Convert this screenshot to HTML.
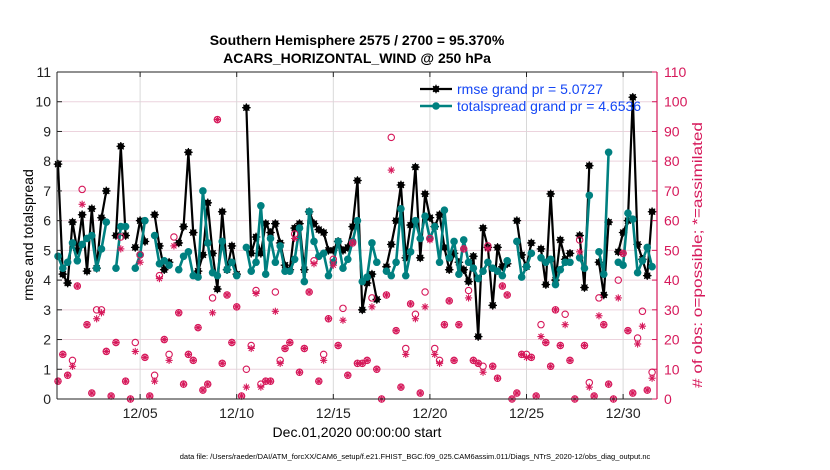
<!DOCTYPE html>
<html><head><meta charset="utf-8">
<style>
html,body{margin:0;padding:0;background:#fff;}
svg{display:block;font-family:"Liberation Sans",Arial,sans-serif;}
</style></head>
<body>
<svg id="chart" width="830" height="470" viewBox="0 0 830 470" xmlns="http://www.w3.org/2000/svg">
  <rect x="0" y="0" width="830" height="470" fill="#fff"/>
  <text x="357" y="45" text-anchor="middle" font-size="14" font-weight="bold">Southern Hemisphere 2575 / 2700 = 95.370%</text>
  <text x="357" y="63" text-anchor="middle" font-size="14" font-weight="bold">ACARS_HORIZONTAL_WIND @ 250 hPa</text>
  <g id="grid"></g>
  <g id="series"></g>
  <g id="axes"></g>
  <text transform="translate(33,235) rotate(-90)" text-anchor="middle" font-size="14">rmse and totalspread</text>
  <text transform="translate(702,255) rotate(-90)" text-anchor="middle" font-size="14" textLength="266" lengthAdjust="spacingAndGlyphs" fill="#d6185a"># of obs: o=possible; *=assimilated</text>
  <text x="357" y="437" text-anchor="middle" font-size="14">Dec.01,2020 00:00:00 start</text>
  <text x="415" y="459" text-anchor="middle" font-size="7.5">data file: /Users/raeder/DAI/ATM_forcXX/CAM6_setup/f.e21.FHIST_BGC.f09_025.CAM6assim.011/Diags_NTrS_2020-12/obs_diag_output.nc</text>
  <g id="legend"></g>
</svg>
<script>
const rmse = [7.9,4.2,3.9,5.95,5.0,6.2,4.3,6.4,4.4,6.1,7.0,null,5.5,8.5,5.5,null,5.1,6.0,5.3,null,6.2,5.15,4.35,4.6,null,5.25,5.8,8.3,5.6,4.3,4.85,6.6,4.9,3.7,6.3,4.35,5.15,4.2,null,9.8,4.9,5.45,4.9,5.9,5.6,5.9,5.25,4.5,4.35,5.75,5.9,4.35,6.3,5.9,5.7,5.6,5.0,5.0,5.3,5.0,5.1,5.8,7.35,3.0,3.9,4.2,3.35,null,4.45,5.2,6.0,7.2,4.75,5.85,7.8,4.75,6.9,6.1,5.8,6.2,5.1,4.35,4.9,4.6,4.35,3.95,4.8,2.1,5.75,5.1,3.15,5.1,4.45,4.55,null,6.0,4.85,4.45,5.25,null,5.05,3.85,6.9,4.0,5.35,4.7,4.9,null,5.5,3.75,7.85,null,4.6,3.5,5.95,null,4.95,5.6,6.0,10.15,5.2,4.7,4.15,6.3];
const spread = [4.8,4.4,4.6,5.25,4.65,5.2,5.4,5.5,4.4,5.05,5.95,null,4.4,5.8,5.8,null,4.4,4.85,6.0,null,5.5,4.55,4.65,4.5,null,4.35,4.8,4.95,4.15,4.1,7.0,5.25,4.25,4.15,5.3,4.35,4.6,4.15,null,5.1,4.3,4.6,6.5,4.2,5.4,4.6,5.15,4.3,4.3,4.7,5.75,3.95,6.3,5.3,4.8,4.9,4.15,4.6,5.3,4.4,4.7,5.3,6.0,3.95,4.1,5.25,4.6,null,4.3,4.15,4.6,6.4,4.15,4.95,6.0,5.4,6.15,5.4,5.8,4.6,6.35,4.75,5.3,4.2,5.35,4.6,4.4,4.05,4.3,4.6,4.4,4.3,4.15,4.65,null,5.3,4.1,4.45,4.9,null,4.75,4.6,4.7,3.85,4.35,4.6,4.6,null,4.75,4.4,6.85,null,4.95,4.2,8.3,null,4.6,4.5,6.25,6.05,4.25,4.65,5.1,4.45];
const possible = [6,15,8,13,38,70.5,25,2,30,30,16,1,19,54.5,6,0,19,48.5,14,1,8,41.5,20,15,54.5,29,5,15,13,24,3,5,34,94,12,35,19,31,1,10,18,36.5,5,6,6,36,13,17,19,55.5,9,17,36,46.5,6,15,27,47,18,30.5,8,52.5,12,12,13,34,10,0,35,88,23,4,17,32,28.5,2,36,54,17,13,25,33,13,25,50.5,36.5,13,12,11,51.5,11,7,38,35,0,2,15,15,14,1,25,19,11,30,18,28.5,13,0,53.5,18,5.5,1,34,25,5,0,40,49,23,2,20.5,29.5,3,9];
const assimilated = [6,15,8,11,38,65.5,25,2,27,29,16,1,19,50.5,6,0,16,46,14,1,6,40.5,20,13,51.5,29,5,15,13,24,3,5,29,94,12,35,19,31,1,4,17,35.5,4,6,6,29.5,12,17,19,54,9,17,36,45.5,6,13,27,45,18,26.5,8,52.5,12,12,13,31,10,0,35,77,23,4,15,32,27,2,31,53.5,15,12,25,33,13,25,50.5,34,13,12,9,50.5,11,7,38,35,0,2,15,14,14,1,21,19,11,30,18,25,13,0,49.5,18,4,1,28,25,5,0,34,49,23,2,18.5,24.5,3,7];
const leftTicks = [0,1,2,3,4,5,6,7,8,9,10,11];
const rightTicks = [0,10,20,30,40,50,60,70,80,90,100,110];
const xTickLabels = ["12/05","12/10","12/15","12/20","12/25","12/30"];
const xTickDays = [4.25,9.25,14.25,19.25,24.25,29.25];
const legendLabels = ["rmse grand pr = 5.0727","totalspread grand pr = 4.6536"];

const NS="http://www.w3.org/2000/svg";
const L=57,R=657,T=72,B=399;
const xScale = t => 58 + t*19.32;
const yL = v => B - (v/11)*(B-T);
const yR = v => B - (v/110)*(B-T);
const MAG="#d6185a", TEAL="#008080";
function mk(tag,attrs,parent){const e=document.createElementNS(NS,tag);for(const k in attrs)e.setAttribute(k,attrs[k]);parent.appendChild(e);return e;}
const grid=document.getElementById('grid'), ser=document.getElementById('series'), axes=document.getElementById('axes'), leg=document.getElementById('legend');

rightTicks.forEach((v,i)=>{ if(i===0||i===rightTicks.length-1) return;
  const g=mk('line',{x1:L,x2:R,y1:yR(v),y2:yR(v),stroke:'#ecd3dd','stroke-width':1},grid);
  
  
});
xTickDays.forEach(d=>{
  const g=mk('line',{x1:xScale(d),x2:xScale(d),y1:T,y2:B,stroke:'#d8d8d8','stroke-width':1},grid);
  
  
});

function star(cx,cy,r,color,w,parent){
  const g=mk('g',{stroke:color,'stroke-width':w},parent);
  mk('line',{x1:cx-r,x2:cx+r,y1:cy,y2:cy},g);
  mk('line',{x1:cx,x2:cx,y1:cy-r,y2:cy+r},g);
  const d=r*0.7;
  mk('line',{x1:cx-d,x2:cx+d,y1:cy-d,y2:cy+d},g);
  mk('line',{x1:cx-d,x2:cx+d,y1:cy+d,y2:cy-d},g);
  return g;
}
function pathFor(arr){let d='',pen=false;arr.forEach((v,i)=>{if(v==null){pen=false;return;}d+=(pen?'L':'M')+xScale(i*0.25).toFixed(1)+' '+yL(v).toFixed(1)+' ';pen=true;});return d;}

const rl=mk('path',{d:pathFor(rmse),fill:'none',stroke:'#000','stroke-width':2.2,'stroke-linejoin':'round'},ser);


rmse.forEach((v,i)=>{ if(v==null) return;
  const c=mk('circle',{cx:xScale(i*0.25),cy:yL(v),r:3.3,fill:'#000'},ser);
  
  
  star(xScale(i*0.25),yL(v),4.3,'#000',1.2,ser);
});
const sl=mk('path',{d:pathFor(spread),fill:'none',stroke:TEAL,'stroke-width':2.6,'stroke-linejoin':'round'},ser);


spread.forEach((v,i)=>{ if(v==null) return;
  const c=mk('circle',{cx:xScale(i*0.25),cy:yL(v),r:3.8,fill:TEAL},ser);
  
  
});
possible.forEach((v,i)=>{
  const c=mk('circle',{cx:xScale(i*0.25),cy:yR(v),r:3.2,fill:'none',stroke:MAG,'stroke-width':1.1},ser);
  
  
});
assimilated.forEach((v,i)=>{
  const s=star(xScale(i*0.25),yR(v),3.6,MAG,1.1,ser);
  
  
});

mk('line',{x1:L,x2:R,y1:T,y2:T,stroke:'#222','stroke-width':1},axes);
mk('line',{x1:L,x2:R,y1:B,y2:B,stroke:'#222','stroke-width':1},axes);
mk('line',{x1:L,x2:L,y1:T,y2:B,stroke:'#222','stroke-width':1},axes);
mk('line',{x1:R,x2:R,y1:T,y2:B,stroke:MAG,'stroke-width':1.2},axes);
leftTicks.forEach(v=>{
  mk('line',{x1:L,x2:L+5,y1:yL(v),y2:yL(v),stroke:'#222'},axes);
  const t=mk('text',{x:L-6,y:yL(v)+5,'text-anchor':'end','font-size':14,fill:'#222'},axes);
  t.textContent=v;
  
  
});
rightTicks.forEach(v=>{
  mk('line',{x1:R-5,x2:R,y1:yR(v),y2:yR(v),stroke:MAG},axes);
  const t=mk('text',{x:R+7,y:yR(v)+5,'font-size':14,fill:MAG},axes);
  t.textContent=v;
  
  
});
xTickDays.forEach((d,i)=>{
  mk('line',{x1:xScale(d),x2:xScale(d),y1:B-5,y2:B,stroke:'#222'},axes);
  mk('line',{x1:xScale(d),x2:xScale(d),y1:T,y2:T+5,stroke:'#222'},axes);
  const t=mk('text',{x:xScale(d),y:B+19,'text-anchor':'middle','font-size':14,fill:'#222'},axes);
  t.textContent=xTickLabels[i];
  
  
});

[['#000',legendLabels[0],89],[TEAL,legendLabels[1],106]].forEach(([col,lab,y],k)=>{
  mk('line',{x1:420,x2:452,y1:y,y2:y,stroke:col,'stroke-width':k?2.6:2.2},leg);
  mk('circle',{cx:436,cy:y,r:k?3.8:3.3,fill:col},leg);
  if(!k) star(436,y,4.3,'#000',1.2,leg);
  const t=mk('text',{x:457,y:y+5,'font-size':14,fill:'#1446f5'},leg);
  t.textContent=lab;
  
  
});
</script>
</body></html>
